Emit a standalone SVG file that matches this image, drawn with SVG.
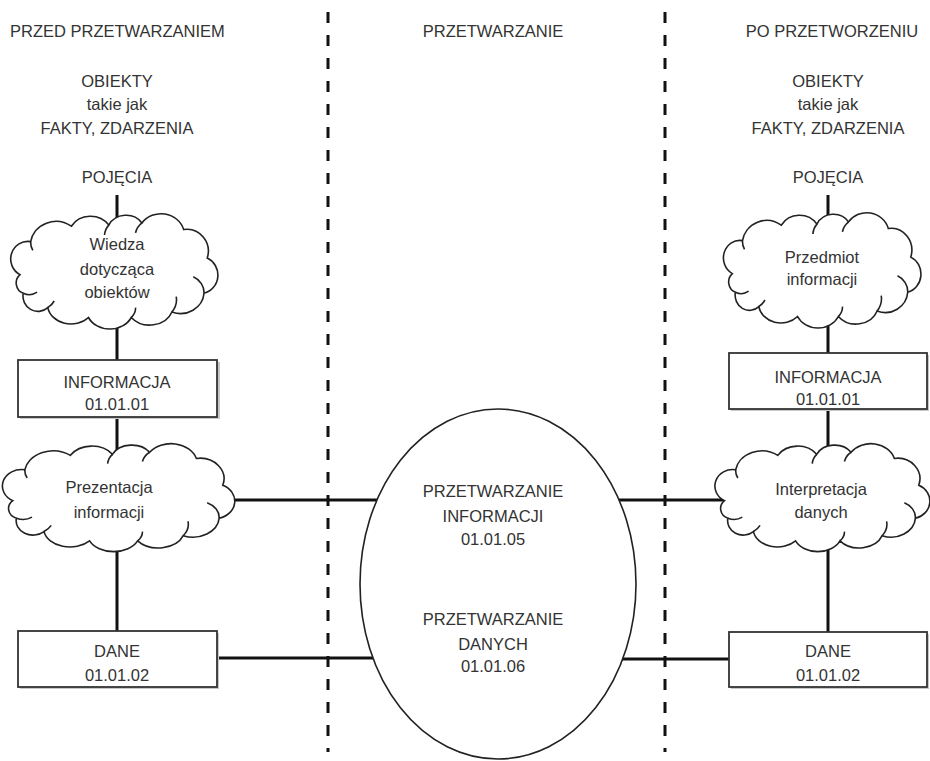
<svg xmlns="http://www.w3.org/2000/svg" xmlns:xlink="http://www.w3.org/1999/xlink" width="930" height="761" viewBox="0 0 930 761">
<style>
text{font-family:"Liberation Sans",Arial,sans-serif;font-size:16.5px;fill:#333;text-anchor:middle}
.conn{stroke:#111;stroke-width:3;fill:none}
.dash{stroke:#111;stroke-width:3;stroke-dasharray:11 12;fill:none}
.box{fill:#fff;stroke:#333;stroke-width:1.8}
.shadow{fill:#c8c8c8}
.cloud{fill:#fff;stroke:#222;stroke-width:1.6;vector-effect:non-scaling-stroke}
.curl{fill:none;stroke:#222;stroke-width:1.6;vector-effect:non-scaling-stroke}
</style>
<defs>
<g id="cloudShape">
<path class="cloud" d="M 14,56 A 16,16 0 0 1 24,26 A 24,22 0 0 1 62,12 A 21,19 0 0 1 97,11 A 18,16 0 0 1 128,9 A 22,20 0 0 1 167,15 A 20,20 0 0 1 189,41 A 17,17 0 0 1 186,73 A 22,20 0 0 1 156,90 A 22,18 0 0 1 118,95 A 22,18 0 0 1 78,95 A 22,18 0 0 1 40,86 A 14,14 0 0 1 17,73 A 10,10 0 0 1 14,56 Z"/>
<path class="curl" d="M 17,73 A 12,10 0 0 0 30,72 M 40,86 A 20,16 0 0 0 46,80 M 118,95 A 20,14 0 0 0 122,86 M 156,90 A 20,18 0 0 0 160,76 M 186,73 A 18,16 0 0 0 176,58 M 24,26 A 14,14 0 0 0 26,34 M 97,11 A 18,16 0 0 0 93,20 M 128,9 A 18,16 0 0 0 122,18"/>
</g>
</defs>
<rect width="930" height="761" fill="#fff"/>

<g id="dividers">
<line class="dash" x1="328" y1="12" x2="328" y2="752"/>
<line class="dash" x1="665" y1="12" x2="665" y2="752"/>
</g>

<g id="connectors">
<line class="conn" x1="117" y1="195" x2="117" y2="230"/>
<line class="conn" x1="117" y1="315" x2="117" y2="360"/>
<line class="conn" x1="117" y1="417" x2="117" y2="460"/>
<line class="conn" x1="117" y1="535" x2="117" y2="631"/>
<line class="conn" x1="828" y1="195" x2="828" y2="228"/>
<line class="conn" x1="828" y1="315" x2="828" y2="353"/>
<line class="conn" x1="828" y1="409" x2="828" y2="460"/>
<line class="conn" x1="828" y1="535" x2="828" y2="632"/>
<line class="conn" x1="225" y1="500" x2="385" y2="500"/>
<line class="conn" x1="217" y1="658" x2="375" y2="658"/>
<line class="conn" x1="610" y1="500" x2="730" y2="500"/>
<line class="conn" x1="620" y1="659" x2="729" y2="659"/>
</g>

<g id="headers">
<text x="10" y="37" style="text-anchor:start">PRZED PRZETWARZANIEM</text>
<text x="493" y="37">PRZETWARZANIE</text>
<text x="832" y="37">PO PRZETWORZENIU</text>
</g>

<g id="left-objects">
<text x="117" y="87">OBIEKTY</text>
<text x="117" y="110">takie jak</text>
<text x="117" y="134">FAKTY, ZDARZENIA</text>
<text x="117" y="183">POJĘCIA</text>
</g>
<g id="right-objects">
<text x="828" y="87">OBIEKTY</text>
<text x="828" y="110">takie jak</text>
<text x="828" y="134">FAKTY, ZDARZENIA</text>
<text x="828" y="183">POJĘCIA</text>
</g>

<g id="cloud-wiedza">
<use xlink:href="#cloudShape" transform="translate(5,213) scale(1.07,1.1)"/>
<text x="117" y="250">Wiedza</text>
<text x="117" y="275">dotycząca</text>
<text x="117" y="298">obiektów</text>
</g>

<g id="cloud-przedmiot">
<use xlink:href="#cloudShape" transform="translate(718,212) scale(1.02,1.1)"/>
<text x="822" y="263">Przedmiot</text>
<text x="822" y="285">informacji</text>
</g>

<g id="box-informacja-left">
<rect class="shadow" x="20" y="362" width="200" height="57"/>
<rect class="box" x="18" y="360" width="199" height="57"/>
<text x="117" y="388">INFORMACJA</text>
<text x="117" y="410">01.01.01</text>
</g>

<g id="box-informacja-right">
<rect class="shadow" x="731" y="355" width="198" height="56"/>
<rect class="box" x="729" y="353" width="198" height="56"/>
<text x="828" y="383">INFORMACJA</text>
<text x="828" y="405">01.01.01</text>
</g>

<g id="cloud-prezentacja">
<use xlink:href="#cloudShape" transform="translate(-4,443) scale(1.2,1.03)"/>
<text x="109" y="493">Prezentacja</text>
<text x="109" y="518">informacji</text>
</g>

<g id="cloud-interpretacja">
<use xlink:href="#cloudShape" transform="translate(709,443) scale(1.11,1.03)"/>
<text x="821" y="495">Interpretacja</text>
<text x="821" y="518">danych</text>
</g>

<g id="box-dane-left">
<rect class="shadow" x="20" y="633" width="199" height="56"/>
<rect class="box" x="18" y="631" width="199" height="56"/>
<text x="117" y="657">DANE</text>
<text x="117" y="681">01.01.02</text>
</g>

<g id="box-dane-right">
<rect class="shadow" x="731" y="634" width="198" height="55"/>
<rect class="box" x="729" y="632" width="198" height="55"/>
<text x="828" y="657">DANE</text>
<text x="828" y="681">01.01.02</text>
</g>

<g id="process-ellipse">
<ellipse cx="498" cy="584" rx="138" ry="175" fill="#fff" stroke="#222" stroke-width="1.6"/>
<text x="493" y="497">PRZETWARZANIE</text>
<text x="493" y="522">INFORMACJI</text>
<text x="493" y="545">01.01.05</text>
<text x="493" y="625">PRZETWARZANIE</text>
<text x="493" y="650">DANYCH</text>
<text x="493" y="672">01.01.06</text>
</g>
</svg>
